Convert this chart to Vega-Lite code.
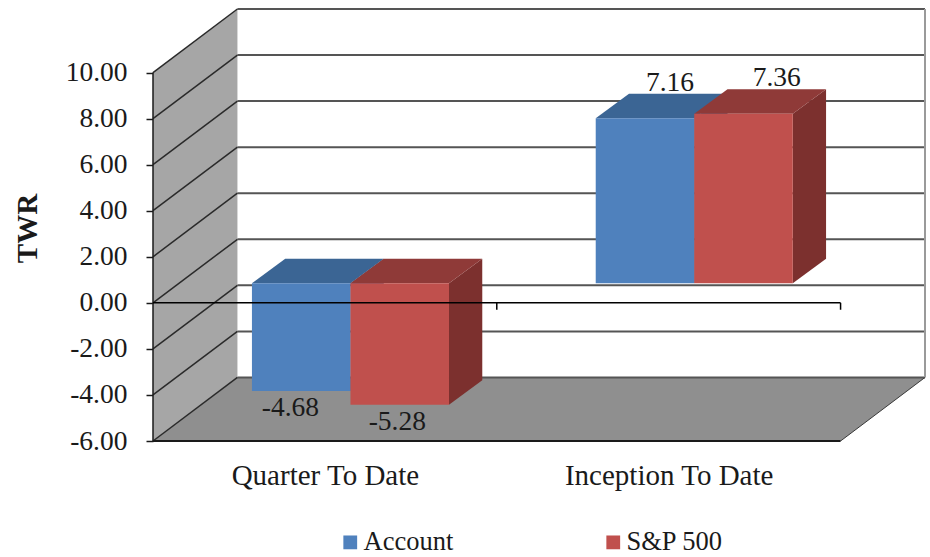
{
"$schema":"https://vega.github.io/schema/vega-lite/v6.json",
"width":772,"height":432,
"autosize":{"type":"none"},
"padding":{"left":153,"top":9,"right":5,"bottom":116},
"background":"white",
"view":{"stroke":null},
"params":[
{"name":"DX","value":0.2456},{"name":"DY","value":2.76},
{"name":"BASE","value":0.855},{"name":"BW","value":0.2866},
{"name":"BDX","value":0.0968},{"name":"BDY","value":1.064}
],
"datasets":{
"bars":[
{"period":"Quarter To Date","series":"Account","value":-4.68},
{"period":"Quarter To Date","series":"S&P 500","value":-5.28},
{"period":"Inception To Date","series":"Account","value":7.16},
{"period":"Inception To Date","series":"S&P 500","value":7.36}
],
"grid":[{"v":-6},{"v":-4},{"v":-2},{"v":0},{"v":2},{"v":4},{"v":6},{"v":8},{"v":10}],
"depth":[{"t":0},{"t":1}],
"xticks":[{"c":1},{"c":2}]
},
"encoding":{
"x":{"field":"x","type":"quantitative","scale":{"domain":[0,2.2456],"nice":false,"zero":false},
"axis":{"values":[0.5,1.5],"title":null,"grid":false,"domain":false,"ticks":false,"labelPadding":20,"labelFont":"Liberation Serif","labelFontSize":29,"labelColor":"#1a1a1a","labelFlush":false,"labelOverlap":false,"labelLimit":400,
"labelExpr":"datum.value<1?'Quarter To Date':'Inception To Date'"}},
"y":{"field":"y","type":"quantitative","scale":{"domain":[-6,12.76],"nice":false,"zero":false},
"axis":{"values":[-6,-4,-2,0,2,4,6,8,10],"title":"TWR","grid":false,"domain":false,"tickSize":7,"tickColor":"#1a1a1a","tickWidth":1.5,"labelPadding":19,"labelFont":"Liberation Serif","labelFontSize":27.5,"labelColor":"#1a1a1a","labelFlush":false,"labelOverlap":false,
"labelExpr":"(datum.value<0?'-':'')+format(abs(datum.value),'.2f')",
"titleFont":"Liberation Serif","titleFontSize":29,"titleFontWeight":"bold","titleColor":"#1a1a1a","titleX":-111,"titleY":219}}
},
"layer":[
{"data":{"name":"depth"},
"transform":[{"calculate":"datum.t*DX","as":"x"},{"calculate":"-6+datum.t*DY","as":"y"},{"calculate":"10+datum.t*DY","as":"y2"}],
"mark":{"type":"area","orient":"vertical","color":"#a6a6a6"},
"encoding":{"y2":{"field":"y2"}}},
{"data":{"name":"depth"},
"transform":[{"calculate":"datum.t*DX","as":"x"},{"calculate":"2+datum.t*DX","as":"x2"},{"calculate":"-6+datum.t*DY","as":"y"}],
"mark":{"type":"area","orient":"horizontal","color":"#8f8f8f"},
"encoding":{"x2":{"field":"x2"}}},
{"data":{"name":"grid"},
"transform":[{"calculate":"DX","as":"x"},{"calculate":"2+DX","as":"x2"},{"calculate":"datum.v+DY","as":"y"}],
"mark":{"type":"rule","color":"#555555","strokeWidth":2},
"encoding":{"x2":{"field":"x2"}}},
{"data":{"name":"grid"},
"transform":[{"calculate":"0","as":"x"},{"calculate":"DX","as":"x2"},{"calculate":"datum.v","as":"y"},{"calculate":"datum.v+DY","as":"y2"}],
"mark":{"type":"rule","color":"#2a2a2a","strokeWidth":1.5},
"encoding":{"x2":{"field":"x2"},"y2":{"field":"y2"}}},
{"data":{"values":[{"a":-6,"b":10}]},
"transform":[{"calculate":"2+DX","as":"x"},{"calculate":"datum.a+DY","as":"y"},{"calculate":"datum.b+DY","as":"y2"}],
"mark":{"type":"rule","color":"#9a9a9a","strokeWidth":2},
"encoding":{"y2":{"field":"y2"}}},
{"data":{"values":[{"a":-6,"b":10}]},
"transform":[{"calculate":"0","as":"x"},{"calculate":"datum.a","as":"y"},{"calculate":"datum.b","as":"y2"}],
"mark":{"type":"rule","color":"#1a1a1a","strokeWidth":1.5},
"encoding":{"y2":{"field":"y2"}}},
{"data":{"values":[{"a":-6}]},
"transform":[{"calculate":"0","as":"x"},{"calculate":"2","as":"x2"},{"calculate":"datum.a","as":"y"}],
"mark":{"type":"rule","color":"#1a1a1a","strokeWidth":2},
"encoding":{"x2":{"field":"x2"}}},
{"data":{"values":[{"a":-6}]},
"transform":[{"calculate":"2","as":"x"},{"calculate":"2+DX","as":"x2"},{"calculate":"datum.a","as":"y"},{"calculate":"datum.a+DY","as":"y2"}],
"mark":{"type":"rule","color":"#3a3a3a","strokeWidth":1},
"encoding":{"x2":{"field":"x2"},"y2":{"field":"y2"}}},
{"data":{"name":"bars"},
"transform":[
{"calculate":"(datum.period=='Quarter To Date'?0.2878:1.2878)+(datum.series=='Account'?0:BW)+BW/2+(datum.value>0?(datum.series=='Account'?0.0727:0.0965):(datum.series=='Account'?-0.0315:-0.007))","as":"x"},
{"calculate":"datum.value+BASE+(datum.value>0?1.533:-0.76)","as":"y"},
{"calculate":"(datum.value<0?'-':'')+format(abs(datum.value),'.2f')","as":"label"}],
"mark":{"type":"text","font":"Liberation Serif","fontSize":27.5,"color":"#1a1a1a","baseline":"middle","align":"center"},
"encoding":{"text":{"field":"label"}}},
{"data":{"name":"bars"},
"transform":[
{"calculate":"[0,1]","as":"t"},{"flatten":["t"]},
{"calculate":"(datum.period=='Quarter To Date'?0.2878:1.2878)+(datum.series=='Account'?0:BW)+BW+datum.t*BDX","as":"x"},
{"calculate":"max(datum.value,0)+BASE+datum.t*BDY","as":"y"},
{"calculate":"min(datum.value,0)+BASE+datum.t*BDY","as":"y2"}],
"mark":{"type":"area","orient":"vertical"},
"encoding":{"y2":{"field":"y2"},"detail":{"field":"period"},
"color":{"field":"series","type":"nominal","legend":null,"scale":{"domain":["Account","S&P 500"],"range":["#3b6594","#7c302e"]}}}},
{"data":{"name":"bars"},
"transform":[
{"calculate":"[0,1]","as":"t"},{"flatten":["t"]},
{"calculate":"(datum.period=='Quarter To Date'?0.2878:1.2878)+(datum.series=='Account'?0:BW)+datum.t*BDX","as":"x"},
{"calculate":"datum.x+BW","as":"x2"},
{"calculate":"max(datum.value,0)+BASE+datum.t*BDY","as":"y"}],
"mark":{"type":"area","orient":"horizontal"},
"encoding":{"x2":{"field":"x2"},"detail":{"field":"period"},
"color":{"field":"series","type":"nominal","legend":null,"scale":{"domain":["Account","S&P 500"],"range":["#3b6594","#8f3a38"]}}}},
{"data":{"name":"bars"},
"transform":[
{"calculate":"(datum.period=='Quarter To Date'?0.2878:1.2878)+(datum.series=='Account'?0:BW)","as":"x"},
{"calculate":"datum.x+BW","as":"x2"},
{"calculate":"max(datum.value,0)+BASE","as":"y"},
{"calculate":"min(datum.value,0)+BASE","as":"y2"}],
"mark":{"type":"rect"},
"encoding":{"x2":{"field":"x2"},"y2":{"field":"y2"},
"color":{"field":"series","type":"nominal","scale":{"domain":["Account","S&P 500"],"range":["#4f81bd","#c0504d"]},
"legend":{"orient":"none","legendX":184,"legendY":520,"direction":"horizontal","title":null,"symbolType":"square","symbolSize":190,"symbolStrokeWidth":0,"labelFont":"Liberation Serif","labelFontSize":26.5,"labelColor":"#1a1a1a","labelOffset":0,"columnPadding":146,"labelLimit":300}}}},
{"data":{"values":[{"a":0}]},
"transform":[{"calculate":"0","as":"x"},{"calculate":"2","as":"x2"},{"calculate":"datum.a","as":"y"}],
"mark":{"type":"rule","color":"#000000","strokeWidth":1.5},
"encoding":{"x2":{"field":"x2"}}},
{"data":{"name":"xticks"},
"transform":[{"calculate":"datum.c","as":"x"},{"calculate":"0","as":"y"},{"calculate":"-0.3","as":"y2"}],
"mark":{"type":"rule","color":"#000000","strokeWidth":1.5},
"encoding":{"y2":{"field":"y2"}}}
],
"resolve":{"scale":{"color":"independent"}}
}
